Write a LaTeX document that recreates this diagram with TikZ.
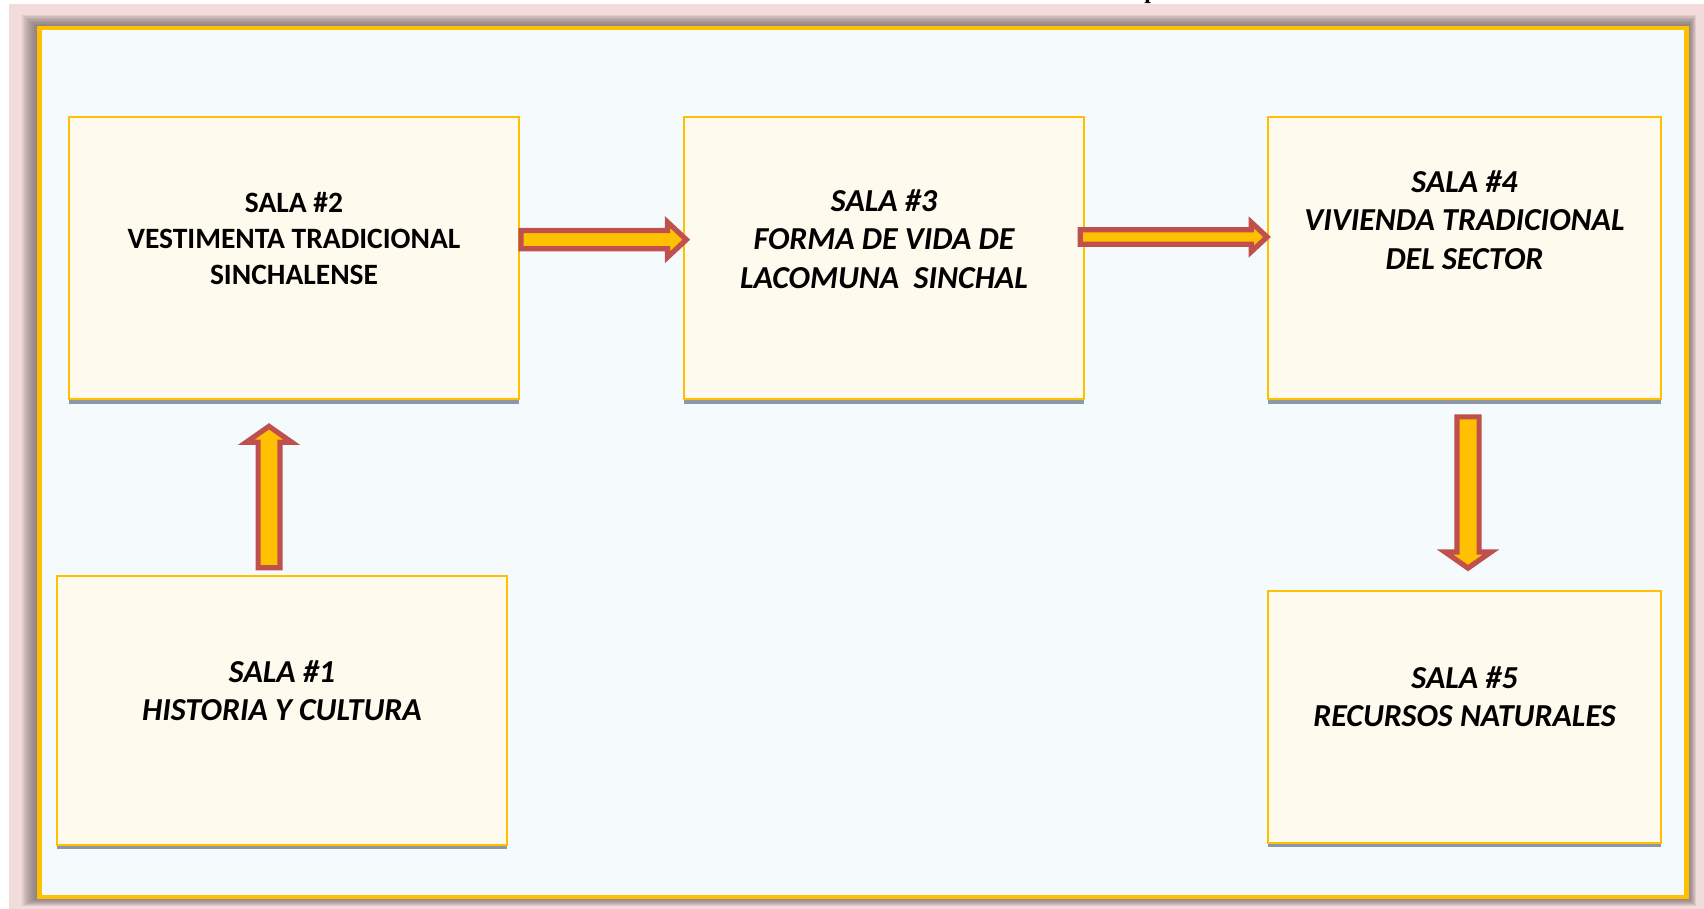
\documentclass[tikz,border=0pt]{standalone}
\usepackage{fontspec}
\setmainfont{Carlito}
\newfontfamily\titlefont{Liberation Serif}
\usetikzlibrary{shapes.arrows, shadows, calc}

\definecolor{pagepink}{RGB}{242,220,219}
\definecolor{frameshade}{RGB}{108,96,96}
\definecolor{framefill}{RGB}{245,251,252}
\definecolor{salaline}{RGB}{255,192,0}
\definecolor{salafill}{RGB}{255,250,238}
\definecolor{salashade}{RGB}{140,152,168}
\definecolor{arrowfill}{RGB}{255,192,0}
\definecolor{arrowline}{RGB}{192,80,77}

\tikzset{
  salabox/.style={rectangle, draw=salaline, fill=salafill, line width=0.85pt,
                  inner sep=0pt,
                  drop shadow={shadow xshift=0pt, shadow yshift=-2.3pt,
                               fill=salashade, opacity=1}},
  salatext/.style={align=center, inner sep=0pt,
                   font=\fontsize{16}{19.4}\selectfont\bfseries\itshape},
  salatextup/.style={salatext, font=\fontsize{14.75}{18}\selectfont\bfseries},
  blockarrow/.style={single arrow, draw=arrowline, fill=arrowfill, line width=2.6pt,
                     inner xsep=0pt, pos=0, anchor=tail, sloped, allow upside down},
  harrow/.style={blockarrow, single arrow tip angle=86},
  varrow/.style={blockarrow, single arrow tip angle=110},
}

\begin{document}
\begin{tikzpicture}[x=0.5pt, y=-0.5pt]
  \useasboundingbox (0,0) rectangle (1704,909);
  \fill[pagepink] (9,4) rectangle (1704,909);
  \node[font=\titlefont\bfseries\fontsize{12}{14}\selectfont, anchor=base, inner sep=0pt]
    (titlep) at (1151,-1.9) {p};
  \foreach \i in {1,...,9}
    \fill[frameshade, opacity=0.14] (39.5-1.9*\i, 28-1.45*\i) rectangle (1686.5+\i, 897+\i);
  \draw[salaline, fill=framefill, line width=2.1pt] (39.5,28) rectangle (1686.5,897);

  \node[salabox, minimum width=224.7pt, minimum height=141pt] (s2) at (294, 258.15) {};
  \node[salabox, minimum width=199.7pt, minimum height=141pt] (s3) at (884, 258.15) {};
  \node[salabox, minimum width=196.7pt, minimum height=141pt] (s4) at (1464.5, 258.15) {};
  \node[salabox, minimum width=224.7pt, minimum height=134.4pt] (s1) at (282, 710.25) {};
  \node[salabox, minimum width=196.7pt, minimum height=125.9pt] (s5) at (1464.5, 716.75) {};

  \node[salatextup] (t2) at ($(s2.center)+(0,-20)$)
    {SALA \#2\\VESTIMENTA TRADICIONAL\\SINCHALENSE};
  \node[salatext] (t3) at ($(s3.center)+(0,-19)$)
    {SALA \#3\\FORMA DE VIDA DE\\LACOMUNA\ \ SINCHAL};
  \node[salatext] (t4) at ($(s4.center)+(0,-38)$)
    {SALA \#4\\VIVIENDA TRADICIONAL\\DEL SECTOR};
  \node[salatext] (t1) at ($(s1.center)+(0,-19.5)$)
    {SALA \#1\\HISTORIA Y CULTURA};
  \node[salatext] (t5) at ($(s5.center)+(0,-20)$)
    {SALA \#5\\RECURSOS NATURALES};

  \path ($(s1.north)+(-13,-4.6)$) -- ($(s2.south)+(-25,28.6)$)
    node[varrow, inner ysep=4.15pt, single arrow head extend=5.95pt, minimum height=70.75pt] (a12) {};
  \path ($(s2.east)+(-1.2,-18.5)$) -- ($(s3.west)+(0.2,-18.5)$)
    node[harrow, inner ysep=3.25pt, single arrow head extend=4.2pt, minimum height=82.7pt] (a23) {};
  \path ($(s3.east)+(-6.9,-21.15)$) -- ($(s4.west)+(-2.6,-21.15)$)
    node[harrow, inner ysep=2.35pt, single arrow head extend=3.7pt, minimum height=93.4pt] (a34) {};
  \path ($(s4.south)+(3.5,14.3)$) -- ($(s5.north)+(3.5,-24.2)$)
    node[varrow, inner ysep=4.25pt, single arrow head extend=5.95pt, minimum height=75.6pt] (a45) {};
\end{tikzpicture}
\end{document}
